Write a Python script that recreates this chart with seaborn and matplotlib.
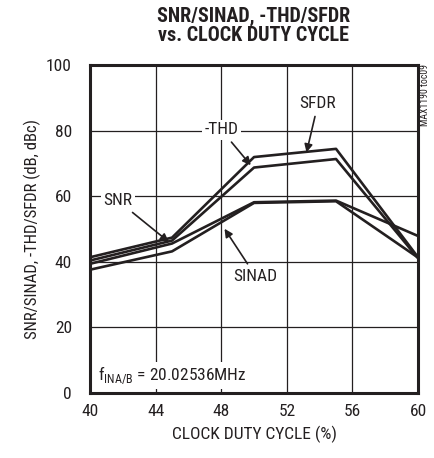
import matplotlib
matplotlib.use("Agg")
import matplotlib.pyplot as plt
import seaborn as sns
import pandas as pd

duty = [40, 45, 50, 55, 60]
sfdr = [41.3, 47.3, 71.9, 74.4, 41.3]
thd = [40.3, 46.4, 68.7, 71.3, 41.0]
snr = [39.3, 45.5, 58.1, 58.6, 47.8]
sinad = [37.5, 43.1, 57.9, 58.4, 41.2]
xticks = [40, 44, 48, 52, 56, 60]
yticks = [0, 20, 40, 60, 80, 100]

sns.set_theme(style="white")
FAM = ['Roboto Condensed', 'Archivo Narrow', 'Barlow Condensed', 'DejaVu Sans']
plt.rcParams['font.family'] = FAM

rows = []
for name, vals in [("SFDR", sfdr), ("-THD", thd), ("SNR", snr), ("SINAD", sinad)]:
    for x, v in zip(duty, vals):
        rows.append({"duty": x, "val": v, "series": name})
df = pd.DataFrame(rows)

INK = "#231f20"
FS = 12.5
fig = plt.figure(figsize=(4.35, 4.58), dpi=100)
ax = fig.add_axes([0.207, 0.143, 0.754, 0.715])
sns.lineplot(data=df, x="duty", y="val", units="series", estimator=None,
             color=INK, linewidth=1.9, ax=ax, legend=False)

ax.set_xlim(40, 60)
ax.set_ylim(0, 100)
ax.set_xticks(xticks)
ax.set_yticks(yticks)
ax.grid(True, color=INK, linewidth=0.9)
for s in ax.spines.values():
    s.set_visible(True)
    s.set_color(INK)
    s.set_linewidth(2.2)
ax.tick_params(axis="x", labelsize=FS, colors=INK, length=0, pad=8)
ax.tick_params(axis="y", labelsize=FS, colors=INK, length=0, pad=13)
ax.set_xlabel("CLOCK DUTY CYCLE (%)", fontsize=FS, color=INK, labelpad=5)
ax.set_ylabel("SNR/SINAD, -THD/SFDR (dB, dBc)", fontsize=12, color=INK, labelpad=4)

fig.text(0.582, 0.985, "SNR/SINAD, -THD/SFDR\nvs. CLOCK DUTY CYCLE", ha="center", va="top",
         fontsize=14.5, fontweight=900, color=INK, linespacing=1.0)

bbox = dict(boxstyle="square,pad=0.15", fc="white", ec="none")
arrow = dict(arrowstyle="-|>", color=INK, lw=1.2, mutation_scale=12, shrinkA=2, shrinkB=0)
tk = dict(fontsize=FS, color=INK, ha="center", va="center", bbox=bbox)
ax.annotate("SFDR", xy=(53.2, 73.3), xytext=(53.9, 88.2), arrowprops=arrow, **tk)
ax.annotate("-THD", xy=(49.8, 69.4), xytext=(48.0, 80.2), arrowprops=arrow, **tk)
ax.annotate("SNR", xy=(44.8, 46.0), xytext=(41.7, 58.6), arrowprops=arrow, **tk)
ax.annotate("SINAD", xy=(48.2, 50.0), xytext=(50.1, 35.5), arrowprops=arrow, **tk)
ax.text(40.5, 5.2, r"f$_{\mathregular{INA/B}}$ = 20.02536MHz", fontsize=FS, color=INK,
        ha="left", va="center", bbox=bbox)
fig.text(0.977, 0.86, "MAX1190 toc09", rotation=90, fontsize=7, color=INK,
         ha="center", va="top")

fig.savefig("out.png", dpi=100)
